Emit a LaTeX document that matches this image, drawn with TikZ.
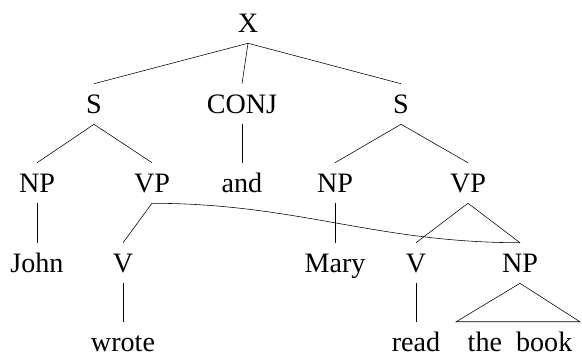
\documentclass[tikz,border=0pt]{standalone}
\usepackage{fontspec}
\setmainfont{Liberation Serif}

\begin{document}
\begin{tikzpicture}[lbl/.style={inner sep=0pt,minimum height=1cm,text height=13.2pt,text depth=0pt,font=\fontsize{20}{24}\selectfont},
  leaf/.style={lbl,minimum height=0pt,text height=0.725cm,anchor=base}]
\useasboundingbox (0,0) rectangle (14.55,8.85);
\node[lbl] (x) at (6.2,8.275) {X};
  \node[lbl] (s1) at (2.35,6.25) {S};
  \node[lbl] (conj) at (6.05,6.25) {CONJ};
  \node[lbl] (s2) at (10.025,6.25) {S};
  \node[lbl] (np1) at (0.925,4.275) {NP};
  \node[lbl] (vp1) at (3.8,4.275) {VP};
  \node[lbl] (and) at (6.05,4.275) {and};
  \node[lbl] (np2) at (8.375,4.275) {NP};
  \node[lbl] (vp2) at (11.7,4.275) {VP};
  \node[lbl] (john) at (0.925,2.275) {John};
  \node[lbl] (v1) at (3.075,2.275) {V};
  \node[lbl] (mary) at (8.375,2.275) {Mary};
  \node[lbl] (v2) at (10.4,2.275) {V};
  \node[lbl] (np3) at (13,2.275) {NP};
  \node[leaf] (wrote) at (3.075,0.075) {wrote};
  \node[leaf] (read) at (10.4,0.075) {read};
  \node[leaf] (book) at (13,0.075) {the\ \ book};
\draw (x.south) to (s1.north);
\draw (x.south) to (conj.north);
\draw (x.south) to (s2.north);
\draw (s1.south) to (np1.north);
\draw (s1.south) to (vp1.north);
\draw (conj.south) to (and.north);
\draw (s2.south) to (np2.north);
\draw (s2.south) to (vp2.north);
\draw (np1.south) to (john.north);
\draw (vp1.south) to (v1.north);
\draw (np2.south) to (mary.north);
\draw (vp2.south) to (v2.north);
\draw (vp2.south) to (np3.north);
\draw (vp1.south) to[out=0,in=180] (np3.north);
\draw (v1.south) to (wrote.north);
\draw (v2.south) to (read.north);
\draw (np3.south) to ([xshift=-0.28cm]book.north west) to ([xshift=0.18cm]book.north east) to cycle;
\end{tikzpicture}
\end{document}
